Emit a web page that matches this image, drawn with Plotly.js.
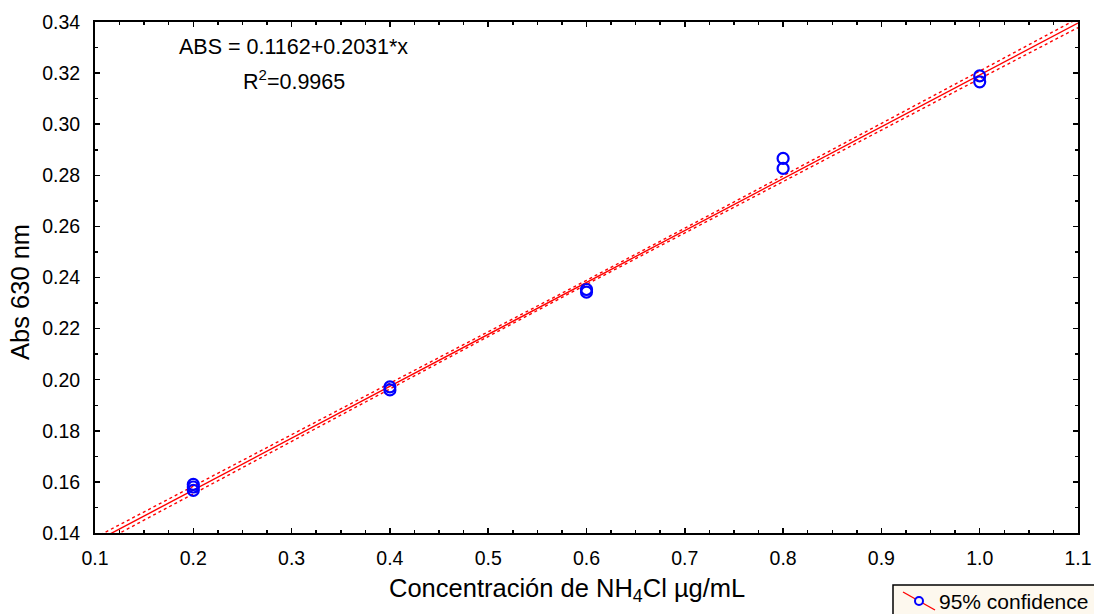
<!DOCTYPE html>
<html>
<head>
<meta charset="utf-8">
<script src="https://cdn.plot.ly/plotly-3.0.1.min.js"></script>
<style>html,body{margin:0;padding:0;background:#fff;}#chart{width:1094px;height:614px;}</style>
</head>
<body>
<div id="chart"></div>
<script>
// Measured data (concentration, absorbance)
const concX = [0.2, 0.2, 0.2, 0.4, 0.4, 0.6, 0.6, 0.8, 0.8, 1.0, 1.0];
const absY  = [0.159, 0.158, 0.1567, 0.1972, 0.196, 0.2353, 0.2343, 0.2866, 0.2827, 0.3189, 0.3166];

// Fitted line (from the equation shown in the chart)
const intercept = 0.1162;
const slope = 0.2031;
const fitX = [0.1, 1.1];

// 95% confidence band
const bandX     = [0.1, 0.2, 0.3, 0.4, 0.5, 0.6, 0.7, 0.8, 0.9, 1.0, 1.1];
const bandUpper = [0.1382, 0.1583, 0.1783, 0.1984, 0.2186, 0.2389, 0.2593, 0.2797, 0.3003, 0.3208, 0.3414];
const bandLower = [0.1348, 0.1554, 0.1759, 0.1965, 0.2169, 0.2373, 0.2575, 0.2776, 0.2977, 0.3178, 0.3378];

const xTickVals = [0.1, 0.2, 0.3, 0.4, 0.5, 0.6, 0.7, 0.8, 0.9, 1.0, 1.1];
const yTickVals = [0.14, 0.16, 0.18, 0.20, 0.22, 0.24, 0.26, 0.28, 0.30, 0.32, 0.34];

const xTitle = 'Concentración de NH<sub>4</sub>Cl µg/mL';
const yTitle = 'Abs 630 nm';
const eqText = 'ABS = 0.1162+0.2031*x';
const r2Text = 'R<sup>2</sup>=0.9965';
const legendText = '95% confidence';

const FONT = 'Liberation Sans, Arial, sans-serif';
const fitY = fitX.map(x => intercept + slope * x);

const traces = [
  {x: bandX, y: bandUpper, mode: 'lines', line: {color: '#ff0000', width: 1.4, dash: 'dot'}, hoverinfo: 'skip', showlegend: false},
  {x: bandX, y: bandLower, mode: 'lines', line: {color: '#ff0000', width: 1.4, dash: 'dot'}, hoverinfo: 'skip', showlegend: false},
  {x: fitX, y: fitY, mode: 'lines', line: {color: '#ff0000', width: 1.4}, showlegend: false},
  {x: concX, y: absY, mode: 'markers', cliponaxis: false,
   marker: {symbol: 'circle-open', size: 11, color: '#0000ff', line: {width: 2.2, color: '#0000ff'}}, showlegend: false}
];

const axisCommon = {
  showgrid: false, zeroline: false, showline: true, linecolor: '#000', linewidth: 2,
  mirror: 'allticks', ticks: 'inside', ticklen: 5, tickwidth: 1.5, tickcolor: '#000',
  tickfont: {family: FONT, size: 19.5, color: '#000'},
  minor: {ticks: 'inside', ticklen: 3, tickwidth: 1.5, tickcolor: '#000'}
};

const px2x = p => (p - 95) / 983;
const py2y = p => (533 - p) / 511;

const layout = {
  width: 1094, height: 614,
  margin: {l: 95, r: 16, t: 22, b: 81},
  paper_bgcolor: '#fff', plot_bgcolor: '#fff',
  showlegend: false,
  xaxis: Object.assign({}, axisCommon, {
    range: [0.1, 1.1], tickvals: xTickVals, ticktext: xTickVals.map(v => v.toFixed(1)),
    minor: Object.assign({}, axisCommon.minor, {dtick: 0.025, tick0: 0.1}),
    ticklabelstandoff: 7
  }),
  yaxis: Object.assign({}, axisCommon, {
    range: [0.14, 0.34], tickvals: yTickVals, ticktext: yTickVals.map(v => v.toFixed(2)),
    minor: Object.assign({}, axisCommon.minor, {dtick: 0.01, tick0: 0.14}),
    ticklabelstandoff: 9
  }),
  annotations: [
    {xref: 'paper', yref: 'paper', x: px2x(567), y: py2y(590), text: xTitle, showarrow: false,
     xanchor: 'center', yanchor: 'middle', font: {family: FONT, size: 25.5, color: '#000'}},
    {xref: 'paper', yref: 'paper', x: px2x(20), y: py2y(292), text: yTitle, showarrow: false, textangle: -90,
     xanchor: 'center', yanchor: 'middle', font: {family: FONT, size: 25.5, color: '#000'}},
    {xref: 'paper', yref: 'paper', x: px2x(293), y: py2y(47), text: eqText, showarrow: false,
     xanchor: 'center', yanchor: 'middle', font: {family: FONT, size: 21.5, color: '#000'}},
    {xref: 'paper', yref: 'paper', x: px2x(294), y: py2y(80), text: r2Text, showarrow: false,
     xanchor: 'center', yanchor: 'middle', font: {family: FONT, size: 21.5, color: '#000'}},
    {xref: 'paper', yref: 'paper', x: px2x(937), y: py2y(601), text: legendText, showarrow: false,
     xanchor: 'left', yanchor: 'middle', font: {family: FONT, size: 21, color: '#000'}}
  ],
  shapes: [
    {type: 'rect', xref: 'paper', yref: 'paper', x0: px2x(893), x1: px2x(1110), y0: py2y(625), y1: py2y(585),
     line: {color: '#000', width: 1.5}, fillcolor: '#fdf8ee', layer: 'below'},
    {type: 'line', xref: 'paper', yref: 'paper', x0: px2x(903), y0: py2y(592), x1: px2x(935), y1: py2y(610),
     line: {color: '#ff0000', width: 1.4}},
    {type: 'circle', xref: 'paper', yref: 'paper', xsizemode: 'pixel', ysizemode: 'pixel',
     xanchor: px2x(919), yanchor: py2y(601), x0: -4, x1: 4, y0: -4, y1: 4,
     line: {color: '#0000ff', width: 2}, fillcolor: '#fdf8ee'}
  ]
};

Plotly.newPlot('chart', traces, layout, {displayModeBar: false, staticPlot: true});
</script>
</body>
</html>
